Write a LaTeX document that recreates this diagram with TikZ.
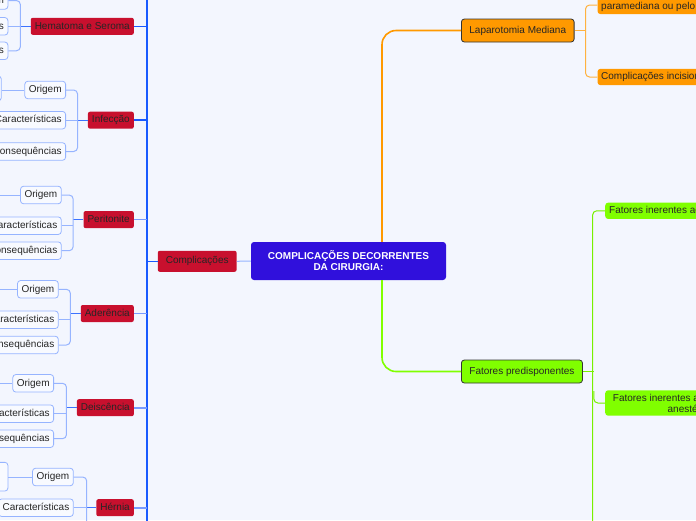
\documentclass[tikz,border=0pt]{standalone}
\usepackage{fontspec}
\setmainfont{Liberation Sans}
\usepackage{xcolor}
\usepackage{tikz}
\usetikzlibrary{positioning, arrows.meta}

\definecolor{pagebg}{RGB}{243,246,254}
\definecolor{coreblue}{RGB}{48,16,220}
\definecolor{topicred}{RGB}{200,16,46}
\definecolor{mmorange}{RGB}{255,153,0}
\definecolor{mmlime}{RGB}{128,255,0}
\definecolor{trunkblue}{RGB}{25,90,255}
\definecolor{branchblue}{RGB}{120,155,255}
\definecolor{twigblue}{RGB}{150,180,255}
\definecolor{leaffill}{RGB}{248,250,255}

\begin{document}
\begin{tikzpicture}[
  x=1pt, y=-1pt,
  font=\fontsize{10}{11}\selectfont,
  root/.style={fill=coreblue, rounded corners=3pt, text=white, align=center,
    font=\fontsize{10}{11}\selectfont\bfseries,
    minimum width=195pt, minimum height=38pt, inner sep=2pt},
  topic/.style={fill=topicred, rounded corners=2pt, text=black!85,
    inner xsep=8pt, minimum height=21pt},
  sub/.style={fill=topicred, rounded corners=2pt, text=black!85, anchor=east,
    inner xsep=4pt, inner ysep=0pt, minimum height=17pt,
    text height=7.5pt, text depth=2pt},
  leaf/.style={draw=twigblue, fill=leaffill, line width=0.8pt, rounded corners=3pt,
    text=black!85, anchor=east, inner xsep=4pt, inner ysep=0pt,
    minimum height=17.5pt, text height=7.5pt, text depth=2pt},
  main/.style={draw=black!80, line width=0.8pt, rounded corners=3pt, text=black!85,
    anchor=west, inner xsep=8pt, minimum height=23pt},
  obox/.style={fill=mmorange, rounded corners=3pt, text=black!85, anchor=west,
    inner xsep=3.7pt, inner ysep=3.5pt, minimum height=16pt},
  gbox/.style={fill=mmlime, rounded corners=3pt, text=black!85, anchor=west,
    inner xsep=4pt, inner ysep=3.5pt, minimum height=15.5pt},
  trunk/.style={draw=trunkblue, line width=1.6pt},
  branch/.style={draw=branchblue, line width=1.6pt},
  stub/.style={draw=trunkblue!85, line width=1.1pt},
  twig/.style={draw=twigblue, line width=1pt, rounded corners=4pt},
  link/.style={draw=twigblue, line width=1pt},
  olead/.style={draw=mmorange, line width=1.6pt, rounded corners=14pt},
  glead/.style={draw=mmlime, line width=1.6pt, rounded corners=14pt},
  olink/.style={draw=mmorange!75, line width=1pt, rounded corners=4pt},
  glink/.style={draw=mmlime!85!black!40!mmlime, line width=1pt, rounded corners=4pt},
]
  \useasboundingbox (0,0) rectangle (696,520);
  \fill[pagebg] (0,0) rectangle (696,520);
  \clip (0,0) rectangle (696,520);

  % Centre
  \node[root] (core) at (348.5,261) {COMPLICAÇÕES DECORRENTES\\DA CIRURGIA:};

  % Left: Complicações and its trunk
  \node[topic] (compl) at (197.2,261.3) {Complicações};
  \coordinate (ctop) at (147,-10);
  \coordinate (cbot) at (147,530);

  \node[sub] (hem) at (134,26.3) {Hematoma e Seroma};
  \node[sub] (inf) at (134,120.2) {Infecção};
  \node[sub] (per) at (134,219.6) {Peritonite};
  \node[sub] (ade) at (134,313.5) {Aderência};
  \node[sub] (dei) at (134,407.7) {Deiscência};
  \node[sub] (her) at (134,507.7) {Hérnia};

  % Children of each topic
  \node[leaf] (hem-o) at (8.3,0.5) {Origem};
  \node[leaf] (hem-c) at (8.3,26.3) {Características};
  \node[leaf] (hem-q) at (8.3,50.8) {Consequências};

  \node[leaf] (inf-o) at (66,90) {Origem};
  \node[leaf] (inf-c) at (66,120.2) {Características};
  \node[leaf] (inf-q) at (66,151.5) {Consequências};
  \node[leaf, minimum width=40pt, minimum height=24.7pt] (inf-x) at (1.7,88.4) {};

  \node[leaf] (per-o) at (61.7,195) {Origem};
  \node[leaf] (per-c) at (61.7,225.7) {Características};
  \node[leaf] (per-q) at (61.7,250.7) {Consequências};
  \coordinate (per-x) at (-6,195);

  \node[leaf] (ade-o) at (58.7,289.3) {Origem};
  \node[leaf] (ade-c) at (58.7,319.8) {Características};
  \node[leaf] (ade-q) at (58.7,345) {Consequências};
  \coordinate (ade-x) at (-6,289.3);

  \node[leaf] (dei-o) at (54,383.3) {Origem};
  \node[leaf] (dei-c) at (54,413.7) {Características};
  \node[leaf] (dei-q) at (54,438.7) {Consequências};
  \coordinate (dei-x) at (-6,383.3);

  \node[leaf] (her-o) at (73.7,477) {Origem};
  \node[leaf] (her-c) at (73.7,507.7) {Características};
  \node[leaf, minimum width=40pt, minimum height=28.7pt] (her-x) at (8.3,476.7) {};
  \coordinate (her-end) at (86.7,540);

  % Trunk and its branches
  \draw[trunk] (ctop) -- (cbot);
  \draw[trunk] (compl.west) -- (compl.west -| ctop);
  \draw[link] (compl.east) -- (core.west);
  \foreach \t in {hem, inf}
    \draw[trunk] (\t.east) -- (\t.east -| ctop);
  \foreach \t in {per, ade, dei, her}
    \draw[branch] (\t.east) -- (\t.east -| ctop);

  % Brackets to the children
  \foreach \t in {hem, inf, per, ade, dei} {
    \coordinate (\t-k) at ([xshift=-10.2pt]\t.west);
    \draw[stub] (\t.west) -- (\t-k);
    \draw[twig] (\t-o.east) -| (\t-k) |- (\t-q.east);
    \draw[twig] (\t-c.east) -- (\t-c.east -| \t-k);
  }
  \coordinate (her-k) at ([xshift=-9.6pt]her.west);
  \draw[stub] (her.west) -- (her-k);
  \draw[twig] (her-o.east) -| (her-end);
  \draw[twig] (her-c.east) -- (her-c.east -| her-k);

  % Origem to its own children
  \draw[twig] (inf-o.west) -- (inf-o.west -| inf-x.east);
  \draw[twig] (her-o.west) -- (her-o.west -| her-x.east);
  \foreach \t in {per, ade, dei}
    \draw[twig] (\t-o.west) -- (\t-x);

  % Right: Laparotomia Mediana (orange)
  \node[main, fill=mmorange] (lap) at (461,30.5) {Laparotomia Mediana};
  \node[obox, anchor=south west, align=left, inner ysep=2.5pt] (lap-a) at (597.3,14.3) {\mbox{}\\paramediana ou pelo};
  \node[obox] (lap-b) at (597.3,77) {Complicações incisionais};
  \coordinate (o-k) at ([xshift=11pt]lap.east);

  \draw[olead] ([xshift=33.5pt]core.north) |- (lap.west);
  \draw[olink] (lap.east) -- (o-k);
  \draw[olink] (lap-a.west) -| (o-k) |- (lap-b.west);

  % Right: Fatores predisponentes (green)
  \node[main, fill=mmlime] (pred) at (461,371.5) {Fatores predisponentes};
  \node[gbox] (pre-a) at (605,210.8) {Fatores inerentes ao paciente};
  \node[gbox, align=center, inner xsep=7.7pt] (pre-b) at (605,403) {Fatores inerentes ao ato cirúrgico e\\anestésico};
  \coordinate (g-k) at ([xshift=11pt]pred.east);
  \coordinate (g-end) at (592.7,540);

  \draw[glead] ([xshift=33.5pt]core.south) |- (pred.west);
  \draw[glink] (pred.east) -- (g-k);
  \draw[glink] (pre-a.west) -| (g-end);
  \draw[glink] ([yshift=12pt]pre-b.west -| g-k) |- (pre-b.west);
\end{tikzpicture}
\end{document}
